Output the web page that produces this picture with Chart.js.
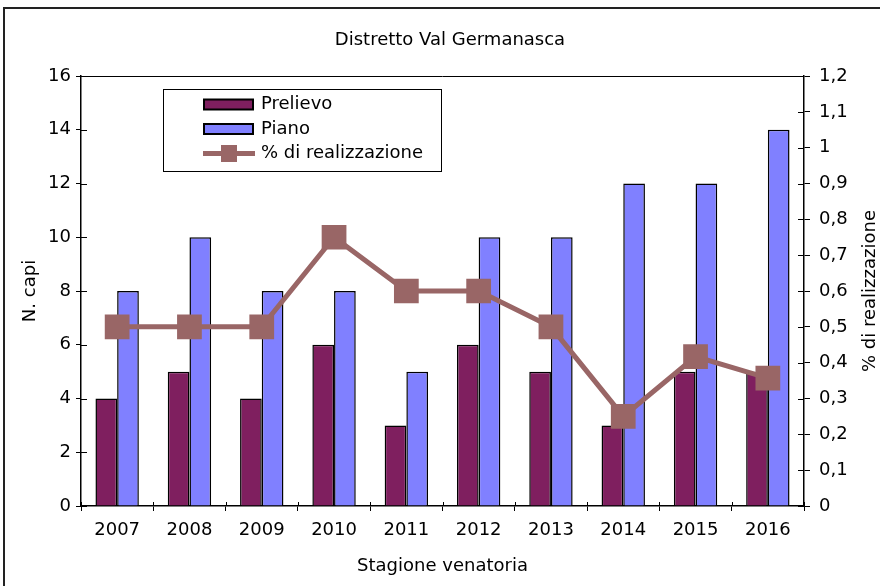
<!DOCTYPE html>
<html>
<head>
<meta charset="utf-8">
<title>Distretto Val Germanasca</title>
<script src="https://cdn.jsdelivr.net/npm/chart.js@4.4.1/dist/chart.umd.min.js"></script>
<style>
  html, body { margin: 0; padding: 0; background: #fff; }
  #wrap { width: 880px; height: 586px; }
</style>
</head>
<body>
<div id="wrap"><canvas id="chart" width="880" height="586"></canvas></div>
<script>
// stagioni e dati del distretto
const stagioni = ['2007', '2008', '2009', '2010', '2011', '2012', '2013', '2014', '2015', '2016'];
const prelievo = [4, 5, 4, 6, 3, 6, 5, 3, 5, 5];
const piano = [8, 10, 8, 8, 5, 10, 10, 12, 12, 14];
const realizzazione = [0.5, 0.5, 0.5, 0.75, 0.6, 0.6, 0.5, 0.25, 0.417, 0.357];

const TITOLO = 'Distretto Val Germanasca';
const COL_PRELIEVO = '#7f1f5f';
const COL_PIANO = '#8080ff';
const COL_LINEA = '#996666';
const FONT = "'DejaVu Sans', 'Liberation Sans', Arial, sans-serif";
const FONT_SIZE = 18;

Chart.defaults.font.family = FONT;
Chart.defaults.font.size = FONT_SIZE;
Chart.defaults.color = '#000';

// cornice esterna, titolo, bordo dell'area del grafico e tacche interne
const framePlugin = {
    id: 'frame',
    beforeDraw(chart) {
        const ctx = chart.ctx;
        ctx.save();
        ctx.fillStyle = '#fff';
        ctx.fillRect(0, 0, chart.width, chart.height);
        ctx.strokeStyle = '#222';
        ctx.lineWidth = 2;
        ctx.beginPath();
        ctx.moveTo(4, chart.height);
        ctx.lineTo(4, 8);
        ctx.lineTo(chart.width, 8);
        ctx.stroke();
        ctx.font = FONT_SIZE + 'px ' + FONT;
        ctx.fillStyle = '#000';
        ctx.textAlign = 'center';
        ctx.textBaseline = 'middle';
        ctx.fillText(TITOLO, 450, 40);
        ctx.restore();
    },
    afterDatasetsDraw(chart) {
        const ctx = chart.ctx;
        const a = chart.chartArea;
        ctx.save();
        ctx.strokeStyle = '#000';
        ctx.lineWidth = 1;
        ctx.beginPath();
        ctx.moveTo(a.left + 0.5, a.top + 0.5);
        ctx.lineTo(a.right - 0.5, a.top + 0.5);
        chart.scales.y.ticks.forEach((t, i) => {
            const py = Math.round(chart.scales.y.getPixelForTick(i)) + 0.5;
            ctx.moveTo(a.left, py);
            ctx.lineTo(a.left + 6, py);
        });
        chart.scales.y1.ticks.forEach((t, i) => {
            const py = Math.round(chart.scales.y1.getPixelForTick(i)) + 0.5;
            ctx.moveTo(a.right - 6, py);
            ctx.lineTo(a.right, py);
        });
        const n = stagioni.length;
        for (let i = 0; i <= n; i++) {
            const px = Math.round(a.left + i * (a.right - a.left) / n) + 0.5;
            ctx.moveTo(px, a.bottom - 4);
            ctx.lineTo(px, a.bottom);
        }
        ctx.stroke();
        ctx.restore();
    }
};

// titolo dell'asse destro, letto dal basso verso l'alto
const rightTitlePlugin = {
    id: 'rightTitle',
    afterDraw(chart) {
        const ctx = chart.ctx;
        const a = chart.chartArea;
        ctx.save();
        ctx.translate(870, (a.top + a.bottom) / 2);
        ctx.rotate(-Math.PI / 2);
        ctx.font = FONT_SIZE + 'px ' + FONT;
        ctx.fillStyle = '#000';
        ctx.textAlign = 'center';
        ctx.textBaseline = 'middle';
        ctx.fillText('% di realizzazione', 0, 0);
        ctx.restore();
    }
};

// legenda riquadrata dentro l'area del grafico
const boxLegendPlugin = {
    id: 'boxLegend',
    afterDraw(chart) {
        const ctx = chart.ctx;
        const ds = chart.data.datasets;
        ctx.save();
        ctx.fillStyle = '#fff';
        ctx.fillRect(163, 89, 278, 82);
        ctx.strokeStyle = '#000';
        ctx.lineWidth = 1;
        ctx.strokeRect(163.5, 89.5, 278, 82);
        ctx.font = FONT_SIZE + 'px ' + FONT;
        ctx.textBaseline = 'middle';
        const voci = [ds[1], ds[2], ds[0]];
        voci.forEach((d, i) => {
            const cy = 104.5 + i * 24.5;
            if (d.type === 'line') {
                ctx.strokeStyle = COL_LINEA;
                ctx.lineWidth = 5;
                ctx.beginPath();
                ctx.moveTo(203, cy);
                ctx.lineTo(255, cy);
                ctx.stroke();
                ctx.fillStyle = COL_LINEA;
                ctx.fillRect(221, cy - 8.5, 16, 17);
            } else {
                ctx.fillStyle = d.backgroundColor;
                ctx.fillRect(204, cy - 5, 49, 10);
                ctx.strokeStyle = '#000';
                ctx.lineWidth = 2;
                ctx.strokeRect(204, cy - 5, 49, 10);
            }
            ctx.fillStyle = '#000';
            ctx.fillText(d.label, 261, cy);
        });
        ctx.restore();
    }
};

const fmtVirgola = v => Number(v.toFixed(1)).toString().replace('.', ',');

new Chart(document.getElementById('chart'), {
    data: {
        labels: stagioni,
        datasets: [
            {
                type: 'line',
                label: '% di realizzazione',
                data: realizzazione,
                yAxisID: 'y1',
                borderColor: COL_LINEA,
                backgroundColor: COL_LINEA,
                borderWidth: 5,
                pointStyle: 'rect',
                pointRadius: 17.5,
                pointHoverRadius: 17.5,
                pointBorderWidth: 0,
                tension: 0,
                order: 0
            },
            {
                type: 'bar',
                label: 'Prelievo',
                data: prelievo,
                yAxisID: 'y',
                backgroundColor: COL_PRELIEVO,
                borderColor: '#000',
                borderWidth: 1.5,
                order: 1
            },
            {
                type: 'bar',
                label: 'Piano',
                data: piano,
                yAxisID: 'y',
                backgroundColor: COL_PIANO,
                borderColor: '#000',
                borderWidth: 1.5,
                order: 1
            }
        ]
    },
    options: {
        responsive: false,
        animation: false,
        datasets: {
            bar: { categoryPercentage: 0.6, barPercentage: 1.0 }
        },
        layout: { padding: { top: 76, left: 0, right: 0, bottom: 0 } },
        plugins: {
            legend: { display: false },
            tooltip: { enabled: false },
            title: { display: false }
        },
        scales: {
            x: {
                afterFit: s => { s.height = 80; },
                grid: { drawOnChartArea: false, color: '#000', tickLength: 5, offset: true },
                border: { color: '#000', width: 1.5 },
                ticks: { padding: 9, color: '#000' },
                title: {
                    display: true,
                    text: 'Stagione venatoria',
                    color: '#000',
                    padding: { top: 0, bottom: 9.2 }
                }
            },
            y: {
                position: 'left',
                min: 0,
                max: 16,
                afterFit: s => { s.width = 81; },
                ticks: { stepSize: 2, padding: 5, color: '#000' },
                grid: { drawOnChartArea: false, color: '#000', tickLength: 5 },
                border: { color: '#000', width: 1.5 },
                title: {
                    display: true,
                    text: 'N. capi',
                    color: '#000',
                    padding: { top: 19.2, bottom: 0 }
                }
            },
            y1: {
                position: 'right',
                min: 0,
                max: 1.2,
                afterFit: s => { s.width = 76; },
                ticks: { stepSize: 0.1, padding: 9, color: '#000', callback: v => fmtVirgola(v) },
                grid: { drawOnChartArea: false, color: '#000', tickLength: 6 },
                border: { color: '#000', width: 1.5 }
            }
        }
    },
    plugins: [framePlugin, rightTitlePlugin, boxLegendPlugin]
});
</script>
</body>
</html>
